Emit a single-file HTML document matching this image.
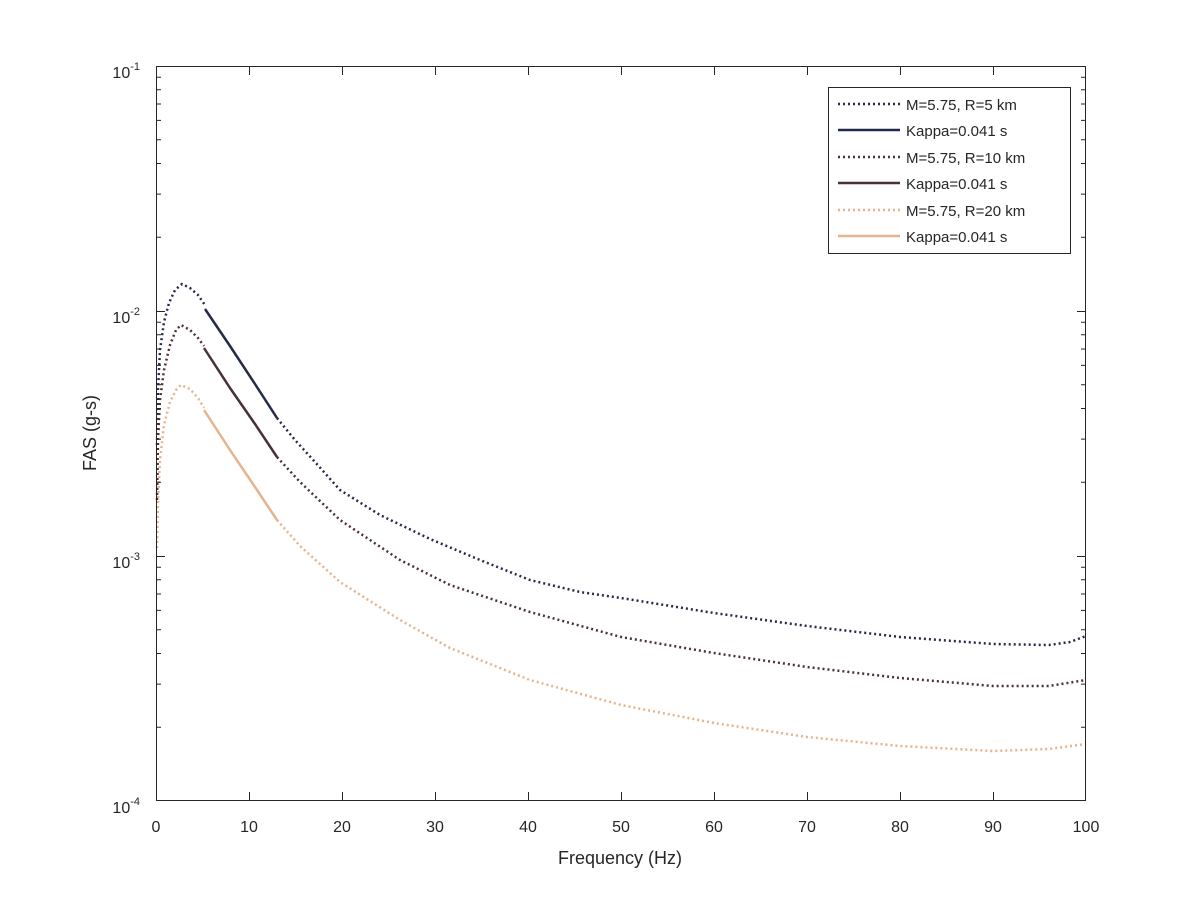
<!DOCTYPE html>
<html><head><style>body{margin:0;background:#fff}svg{display:block}text{font-family:"Liberation Sans",sans-serif;fill:#262626}</style></head><body>
<svg width="1200" height="900" viewBox="0 0 1200 900">
<rect width="1200" height="900" fill="#fff"/>
<g id="curves" fill="none" stroke-width="2.5" stroke-linejoin="round">
<polyline stroke="#252a4d" stroke-dasharray="2,3" points="157,445 158,390 160,350 164,322 169,303 175,290 182,284 190,288 198,295 205,305"/>
<polyline stroke="#252a4d" points="205,309 230,346 255,384 277,418"/>
<polyline stroke="#252a4d" stroke-dasharray="2,3" points="277,418 295,440 315,462 340,490 380,515 430,539 480,560 530,580 580,592 621,598 714,613 807,626 900,637 993,644 1049,645 1070,642 1086,636"/>
<polyline stroke="#4a3038" stroke-dasharray="2,3" points="157,500 158,440 160,400 164,370 170,345 176,330 181,325 190,330 198,338 204,346"/>
<polyline stroke="#4a3038" points="204,348 230,388 255,424 277,457"/>
<polyline stroke="#4a3038" stroke-dasharray="2,3" points="277,457 300,482 340,520 400,560 450,585 530,612 621,637 714,653 807,667 900,678 993,686 1049,686 1086,680"/>
<polyline stroke="#e6b38d" stroke-dasharray="2,3" points="157,548 158,500 160,460 164,425 170,402 176,390 181,385 190,389 198,398 204,408"/>
<polyline stroke="#e6b38d" points="204,410 230,450 255,487 277,520"/>
<polyline stroke="#e6b38d" stroke-dasharray="2,3" points="277,520 300,546 340,582 400,620 450,648 530,680 621,705 714,723 807,737 900,746 993,751 1049,749 1086,744"/>
</g>
<g stroke="#262626" stroke-width="1" fill="none">
<rect x="156.5" y="66.5" width="929" height="734"/>
<path d="
M156.5,801v-9M1085.5,801v-9M156.5,66v9M1085.5,66v9
M249.5,801v-9M249.5,66v9M342.5,801v-9M342.5,66v9M435.5,801v-9M435.5,66v9M528.5,801v-9M528.5,66v9
M621.5,801v-9M621.5,66v9M714.5,801v-9M714.5,66v9M807.5,801v-9M807.5,66v9M900.5,801v-9M900.5,66v9M993.5,801v-9M993.5,66v9
M156,311.5h9M1086,311.5h-9M156,556.5h9M1086,556.5h-9M156,66.5h9M1086,66.5h-9"/>
</g>
<g id="minor"></g>
<g font-size="16" text-anchor="middle">
<text x="156" y="832">0</text><text x="249" y="832">10</text><text x="342" y="832">20</text><text x="435" y="832">30</text><text x="528" y="832">40</text><text x="621" y="832">50</text><text x="714" y="832">60</text><text x="807" y="832">70</text><text x="900" y="832">80</text><text x="993" y="832">90</text><text x="1086" y="832">100</text>
<text x="620" y="864" font-size="18">Frequency (Hz)</text>
<text transform="translate(96,433) rotate(-90)" font-size="18">FAS (g-s)</text>
</g>
<g font-size="16" text-anchor="end">
<text x="140" y="78">10<tspan font-size="11" dy="-8">-1</tspan></text>
<text x="140" y="323">10<tspan font-size="11" dy="-8">-2</tspan></text>
<text x="140" y="568">10<tspan font-size="11" dy="-8">-3</tspan></text>
<text x="140" y="813">10<tspan font-size="11" dy="-8">-4</tspan></text>
</g>
<rect x="828.5" y="87.5" width="242" height="166" fill="#fff" stroke="#262626"/>
<g stroke-width="2.5" fill="none">
<line x1="838" y1="104" x2="900" y2="104" stroke="#252a4d" stroke-dasharray="2,3"/>
<line x1="838" y1="130" x2="900" y2="130" stroke="#252a4d"/>
<line x1="838" y1="157" x2="900" y2="157" stroke="#4a3038" stroke-dasharray="2,3"/>
<line x1="838" y1="183" x2="900" y2="183" stroke="#4a3038"/>
<line x1="838" y1="210" x2="900" y2="210" stroke="#e6b38d" stroke-dasharray="2,3"/>
<line x1="838" y1="236" x2="900" y2="236" stroke="#e6b38d"/>
</g>
<g font-size="15" style="fill:#000">
<text x="906" y="110">M=5.75, R=5 km</text>
<text x="906" y="136">Kappa=0.041 s</text>
<text x="906" y="163">M=5.75, R=10 km</text>
<text x="906" y="189">Kappa=0.041 s</text>
<text x="906" y="216">M=5.75, R=20 km</text>
<text x="906" y="242">Kappa=0.041 s</text>
</g>
<script>
var g=document.getElementById('minor'),s='';
for(var d=0;d<3;d++){var base=801-245*d;for(var k=2;k<10;k++){var y=(base-245*Math.log10(k)).toFixed(1);s+='M156,'+y+'h5M1086,'+y+'h-5';}}
var p=document.createElementNS('http://www.w3.org/2000/svg','path');p.setAttribute('d',s);p.setAttribute('stroke','#262626');g.appendChild(p);
</script>
</svg>
</body></html>
